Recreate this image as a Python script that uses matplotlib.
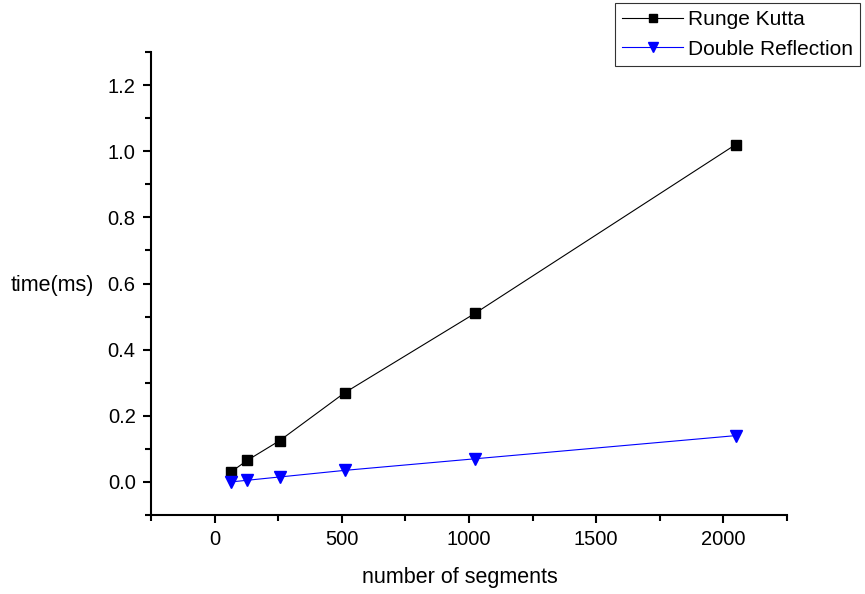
import matplotlib
matplotlib.use('Agg')
import matplotlib.pyplot as plt
from matplotlib.ticker import MultipleLocator

# data
segments = [64, 128, 256, 512, 1024, 2048]
runge_kutta = [0.03, 0.065, 0.125, 0.27, 0.51, 1.02]
double_reflection = [0.0, 0.005, 0.015, 0.035, 0.07, 0.14]

plt.rcParams['font.family'] = ['Liberation Sans', 'DejaVu Sans']
plt.rcParams['font.size'] = 15

fig = plt.figure(figsize=(8.65, 5.94), dpi=100)
ax = fig.add_axes([151/865, 79/594, 636/865, 463/594])

ax.plot(segments, runge_kutta, color='black', lw=0.8, marker='s', ms=7,
        label='Runge Kutta')
ax.plot(segments, double_reflection, color='blue', lw=0.8, marker='v', ms=9,
        label='Double Reflection')

ax.set_xlim(-250, 2250)
ax.set_ylim(-0.1, 1.3)
ax.xaxis.set_major_locator(MultipleLocator(500))
ax.xaxis.set_minor_locator(MultipleLocator(250))
ax.yaxis.set_major_locator(MultipleLocator(0.2))
ax.yaxis.set_minor_locator(MultipleLocator(0.1))
ax.yaxis.set_major_formatter(plt.FormatStrFormatter('%.1f'))

for s in ['top', 'right']:
    ax.spines[s].set_visible(False)
for s in ['left', 'bottom']:
    ax.spines[s].set_linewidth(1.5)
ax.tick_params(which='major', direction='out', length=6, width=1.5, labelsize=14.5, pad=5)
ax.tick_params(which='minor', direction='out', length=4, width=1.5)

fig.text(52/865, 1 - 285/594, 'time(ms)', ha='center', va='center', fontsize=15.5)
fig.text(460/865, 1 - 578/594, 'number of segments', ha='center', va='center', fontsize=15.5)

leg = fig.legend(loc='upper left', bbox_to_anchor=(615/865, 1 - 3/594),
                 frameon=True, fancybox=False, edgecolor='black', fontsize=15,
                 handlelength=2.9, handletextpad=0.25, borderpad=0.35,
                 labelspacing=0.5, markerscale=0.85, borderaxespad=0)
leg.get_frame().set_linewidth(0.8)

plt.savefig('out.png', dpi=100)
plt.close()
